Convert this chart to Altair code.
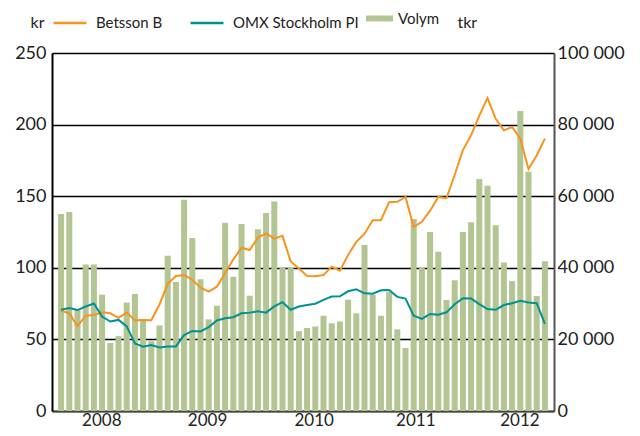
import altair as alt
import pandas as pd

# Period index (60 periods, early 2008 – 2012)
period = list(range(60))

volym = [55000, 55600, 28500, 40900, 40900, 32500, 19000, 20900, 30300, 32700,
         25300, 19500, 23900, 43400, 36000, 59000, 48350, 36800, 25600, 29400,
         52600, 37500, 52200, 32200, 50800, 55300, 58500, 40100, 40100, 22300,
         23200, 23600, 26600, 24500, 25000, 31100, 27300, 46400, 32500, 26600,
         33200, 22800, 17600, 53600, 40100, 50000, 44500, 31000, 36500, 50000,
         52700, 64800, 62900, 51900, 41500, 36300, 83800, 66800, 32100, 41800]

betsson = [70.0, 68.2, 59.3, 66.6, 67.1, 68.9, 68.2, 65.0, 68.7, 63.4,
           63.6, 63.4, 74.4, 88.8, 94.3, 95.0, 91.6, 86.1, 83.3, 86.8,
           96.4, 105.8, 114.0, 112.4, 121.1, 124.1, 120.4, 122.3, 104.4, 99.5,
           94.3, 94.1, 95.0, 100.8, 98.0, 109.0, 118.1, 123.8, 133.2, 133.2,
           145.8, 146.1, 149.5, 128.6, 132.1, 139.9, 149.5, 148.6, 165.0, 182.2,
           192.5, 206.3, 218.5, 204.0, 196.0, 198.3, 190.2, 169.0, 178.4, 190.2]

omx = [70.7, 71.9, 70.5, 73.0, 75.1, 65.9, 62.5, 63.6, 59.1, 47.2,
       44.9, 46.0, 44.4, 45.1, 45.1, 53.0, 55.9, 55.6, 58.6, 63.2,
       64.8, 65.5, 68.2, 68.7, 69.6, 68.7, 73.0, 76.0, 70.7, 73.0,
       74.0, 74.9, 77.6, 79.9, 80.1, 83.6, 85.0, 82.2, 81.9, 84.3,
       84.5, 79.7, 78.5, 66.6, 64.3, 67.8, 67.3, 68.9, 74.6, 78.8,
       78.5, 74.6, 71.2, 70.7, 74.0, 75.3, 76.9, 75.8, 75.3, 60.9]

year_pos = [4.9, 17.8, 30.8, 43.2, 55.9]
year_labels = ["2008", "2009", "2010", "2011", "2012"]

series_names = ["Betsson B", "OMX Stockholm PI"]
FONT = "Lato"
ORANGE = "#f7941d"
TEAL = "#00928f"
GREEN = "#b3c592"
TXT = "#222"

bar_df = pd.DataFrame({"idx": period, "volym": volym, "serie": "Volym"})
line_df = pd.concat([
    pd.DataFrame({"idx": period, "value": betsson, "serie": series_names[0]}),
    pd.DataFrame({"idx": period, "value": omx, "serie": series_names[1]}),
])

label_expr = " : ".join(
    f"datum.value < {p + 3} ? '{l}'" for p, l in zip(year_pos[:-1], year_labels[:-1])
) + f" : '{year_labels[-1]}'"

x_enc = alt.X(
    "idx:Q",
    scale=alt.Scale(domain=[-0.5, 59.5], nice=False, zero=False),
    axis=alt.Axis(values=year_pos, labelExpr=label_expr, title=None, ticks=False,
                  grid=False, domainColor="#444", domainWidth=2, labelFontSize=17,
                  labelPadding=1, labelColor=TXT, labelFont=FONT),
)

bars = alt.Chart(bar_df).mark_bar(size=6).encode(
    x=x_enc,
    y=alt.Y("volym:Q",
            scale=alt.Scale(domain=[0, 100000], nice=False),
            axis=alt.Axis(orient="right", values=list(range(0, 100001, 20000)),
                          labelExpr="replace(format(datum.value, ','), ',', ' ')",
                          grid=False, ticks=False, domainColor="#555", domainWidth=2,
                          labelFontSize=18, labelPadding=3, labelColor=TXT,
                          labelFont=FONT, title="tkr", titleAngle=0, titleX=-97,
                          titleY=-31, titleAlign="left", titleBaseline="middle",
                          titleFontSize=16, titleFontWeight="normal",
                          titleFont=FONT, titleColor=TXT)),
    color=alt.Color("serie:N", scale=alt.Scale(domain=["Volym"], range=[GREEN]),
                    legend=alt.Legend(orient="none", legendX=314, legendY=-48,
                                      direction="horizontal", title=None,
                                      symbolType="M-1,-0.22H1V0.22H-1Z",
                                      symbolSize=729, symbolStrokeWidth=0,
                                      labelFontSize=15, labelOffset=5,
                                      labelFont=FONT, labelColor=TXT)),
)

lines = alt.Chart(line_df).mark_line(strokeWidth=2).encode(
    x=x_enc,
    y=alt.Y("value:Q",
            scale=alt.Scale(domain=[0, 250], nice=False),
            axis=alt.Axis(orient="left", values=[0, 50, 100, 150, 200, 250],
                          grid=True, gridColor="#000", gridWidth=1.3,
                          ticks=False, domainColor="#000", domainWidth=2,
                          labelFontSize=18, labelPadding=6, labelColor=TXT,
                          labelFont=FONT, title="kr", titleAngle=0, titleX=-22,
                          titleY=-31, titleAlign="left", titleBaseline="middle",
                          titleFontSize=16, titleFontWeight="normal",
                          titleFont=FONT, titleColor=TXT)),
    color=alt.Color("serie:N",
                    scale=alt.Scale(domain=series_names, range=[ORANGE, TEAL]),
                    legend=alt.Legend(orient="none", legendX=0, legendY=-48,
                                      direction="horizontal", title=None,
                                      symbolType="stroke", symbolSize=1089,
                                      symbolStrokeWidth=2.5, labelFontSize=15,
                                      labelOffset=8, columnPadding=22,
                                      labelFont=FONT, labelColor=TXT)),
    detail="serie:N",
)

chart = alt.layer(bars, lines).resolve_scale(
    y="independent", color="independent"
).resolve_legend(color="independent").properties(
    width=502, height=358,
    autosize=alt.AutoSizeParams(type="none"),
    padding={"left": 44, "top": 45, "right": 78, "bottom": 17},
).configure_view(stroke=None).configure(background="white")

chart.save("out.html", embed_options={"renderer": "svg", "actions": False})
